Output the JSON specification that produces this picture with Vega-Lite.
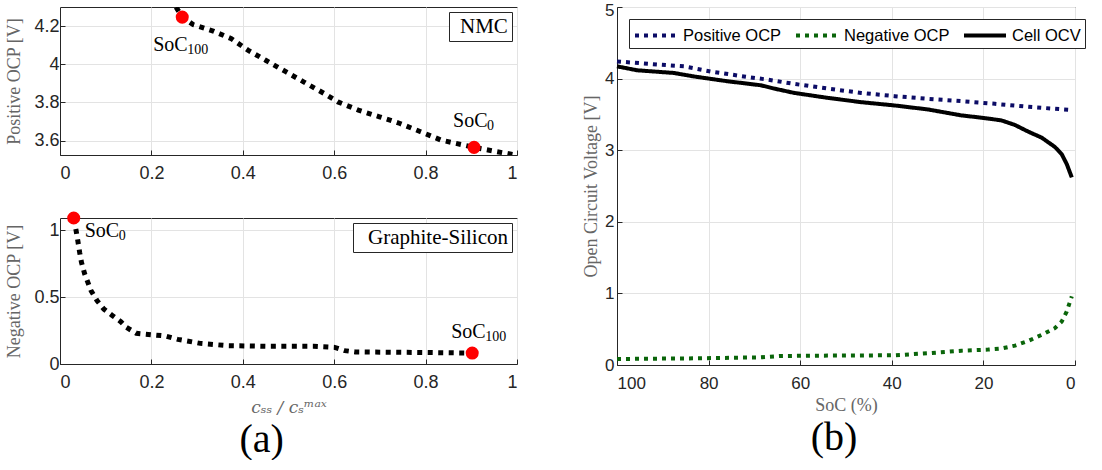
{
  "$schema": "https://vega.github.io/schema/vega-lite/v6.json",
  "background": "white",
  "padding": {"left": 5, "top": 0, "right": 3, "bottom": 0},
  "config": {
    "view": {"stroke": "#262626", "strokeWidth": 1},
    "axis": {
      "labelFont": "Liberation Sans",
      "labelFontSize": 18,
      "labelColor": "#262626",
      "titleFont": "Liberation Serif",
      "titleFontSize": 18,
      "titleFontWeight": "normal",
      "titleColor": "#666666",
      "domainColor": "#262626",
      "tickColor": "#262626",
      "tickSize": -5,
      "labelPadding": 14,
      "gridColor": "#e3e3e3",
      "gridWidth": 1
    },
    "legend": {"labelFont": "Liberation Sans", "labelColor": "#000000"}
  },
  "datasets": {
    "nmc": [
      {"x": 0.254, "v": 4.299}, {"x": 0.2675, "v": 4.247}, {"x": 0.292, "v": 4.207},
      {"x": 0.337, "v": 4.172}, {"x": 0.375, "v": 4.134}, {"x": 0.412, "v": 4.073},
      {"x": 0.45, "v": 4.021}, {"x": 0.495, "v": 3.96}, {"x": 0.533, "v": 3.908},
      {"x": 0.578, "v": 3.847}, {"x": 0.608, "v": 3.803}, {"x": 0.653, "v": 3.76},
      {"x": 0.699, "v": 3.725}, {"x": 0.744, "v": 3.69}, {"x": 0.789, "v": 3.647},
      {"x": 0.834, "v": 3.603}, {"x": 0.906, "v": 3.565}, {"x": 0.955, "v": 3.543},
      {"x": 0.992, "v": 3.527}
    ],
    "graphite": [
      {"x": 0.030, "v": 1.085}, {"x": 0.035, "v": 1.0}, {"x": 0.039, "v": 0.92},
      {"x": 0.043, "v": 0.833}, {"x": 0.047, "v": 0.759}, {"x": 0.054, "v": 0.672},
      {"x": 0.068, "v": 0.547}, {"x": 0.081, "v": 0.473}, {"x": 0.096, "v": 0.41},
      {"x": 0.115, "v": 0.361}, {"x": 0.133, "v": 0.316}, {"x": 0.145, "v": 0.274},
      {"x": 0.167, "v": 0.229}, {"x": 0.209, "v": 0.216}, {"x": 0.231, "v": 0.209},
      {"x": 0.258, "v": 0.184}, {"x": 0.307, "v": 0.154}, {"x": 0.367, "v": 0.137},
      {"x": 0.457, "v": 0.132}, {"x": 0.555, "v": 0.132}, {"x": 0.601, "v": 0.124},
      {"x": 0.623, "v": 0.1}, {"x": 0.646, "v": 0.09}, {"x": 0.759, "v": 0.087},
      {"x": 0.902, "v": 0.082}
    ],
    "markersTop": [
      {"x": 0.2675, "v": 4.247, "label": "SoC", "sub": "100", "end": "full"},
      {"x": 0.906, "v": 3.565, "label": "SoC", "sub": "0", "end": "empty"}
    ],
    "markersBottom": [
      {"x": 0.030, "v": 1.09, "label": "SoC", "sub": "0", "end": "empty"},
      {"x": 0.902, "v": 0.082, "label": "SoC", "sub": "100", "end": "full"}
    ],
    "cell": [
      {"series": "Positive OCP", "soc": 100, "v": 4.24}, {"series": "Positive OCP", "soc": 90.5, "v": 4.194},
      {"series": "Positive OCP", "soc": 85.4, "v": 4.171}, {"series": "Positive OCP", "soc": 79.6, "v": 4.10},
      {"series": "Positive OCP", "soc": 72.3, "v": 4.03}, {"series": "Positive OCP", "soc": 67.2, "v": 3.986},
      {"series": "Positive OCP", "soc": 61.3, "v": 3.926}, {"series": "Positive OCP", "soc": 54.0, "v": 3.861},
      {"series": "Positive OCP", "soc": 46.7, "v": 3.80}, {"series": "Positive OCP", "soc": 39.4, "v": 3.755},
      {"series": "Positive OCP", "soc": 32.1, "v": 3.718}, {"series": "Positive OCP", "soc": 24.8, "v": 3.685},
      {"series": "Positive OCP", "soc": 17.5, "v": 3.648}, {"series": "Positive OCP", "soc": 10.2, "v": 3.606},
      {"series": "Positive OCP", "soc": 1.5, "v": 3.565}, {"series": "Positive OCP", "soc": 0.5, "v": 3.56},
      {"series": "Negative OCP", "soc": 100, "v": 0.084}, {"series": "Negative OCP", "soc": 83.2, "v": 0.093},
      {"series": "Negative OCP", "soc": 68.6, "v": 0.107}, {"series": "Negative OCP", "soc": 64.2, "v": 0.126},
      {"series": "Negative OCP", "soc": 54.0, "v": 0.131}, {"series": "Negative OCP", "soc": 39.4, "v": 0.136},
      {"series": "Negative OCP", "soc": 32.1, "v": 0.164}, {"series": "Negative OCP", "soc": 24.8, "v": 0.2},
      {"series": "Negative OCP", "soc": 19.0, "v": 0.215}, {"series": "Negative OCP", "soc": 16.1, "v": 0.229},
      {"series": "Negative OCP", "soc": 13.1, "v": 0.271}, {"series": "Negative OCP", "soc": 10.2, "v": 0.336},
      {"series": "Negative OCP", "soc": 7.3, "v": 0.42}, {"series": "Negative OCP", "soc": 4.4, "v": 0.514},
      {"series": "Negative OCP", "soc": 2.9, "v": 0.607}, {"series": "Negative OCP", "soc": 1.8, "v": 0.748},
      {"series": "Negative OCP", "soc": 0.7, "v": 0.958},
      {"series": "Cell OCV", "soc": 100, "v": 4.171}, {"series": "Cell OCV", "soc": 95.6, "v": 4.116},
      {"series": "Cell OCV", "soc": 87.6, "v": 4.079}, {"series": "Cell OCV", "soc": 83.2, "v": 4.03},
      {"series": "Cell OCV", "soc": 75.9, "v": 3.963}, {"series": "Cell OCV", "soc": 68.6, "v": 3.907},
      {"series": "Cell OCV", "soc": 65.7, "v": 3.861}, {"series": "Cell OCV", "soc": 61.3, "v": 3.80},
      {"series": "Cell OCV", "soc": 54.0, "v": 3.731}, {"series": "Cell OCV", "soc": 46.7, "v": 3.671},
      {"series": "Cell OCV", "soc": 39.4, "v": 3.625}, {"series": "Cell OCV", "soc": 32.1, "v": 3.569},
      {"series": "Cell OCV", "soc": 24.8, "v": 3.486}, {"series": "Cell OCV", "soc": 20.4, "v": 3.454},
      {"series": "Cell OCV", "soc": 16.1, "v": 3.417}, {"series": "Cell OCV", "soc": 13.1, "v": 3.352},
      {"series": "Cell OCV", "soc": 10.2, "v": 3.259}, {"series": "Cell OCV", "soc": 7.3, "v": 3.176},
      {"series": "Cell OCV", "soc": 4.4, "v": 3.046}, {"series": "Cell OCV", "soc": 2.9, "v": 2.944},
      {"series": "Cell OCV", "soc": 1.8, "v": 2.806}, {"series": "Cell OCV", "soc": 0.7, "v": 2.62}
    ]
  },
  "resolve": {
    "scale": {"color": "independent", "strokeDash": "independent", "strokeWidth": "independent"},
    "legend": {"color": "independent", "strokeDash": "independent", "strokeWidth": "independent"}
  },
  "hconcat": [
    {
      "title": {"text": "(a)", "orient": "bottom", "anchor": "middle", "frame": "bounds", "font": "Liberation Serif", "fontSize": 40, "fontWeight": "normal", "color": "#000000", "offset": 4},
      "spacing": 25,
      "resolve": {"scale": {"color": "independent"}, "legend": {"color": "independent"}},
      "vconcat": [
        {
          "width": 457,
          "height": 148,
          "layer": [
            {
              "data": {"name": "nmc"},
              "mark": {"type": "line", "strokeWidth": 5, "strokeDash": [5, 5.5], "strokeCap": "butt", "clip": true},
              "encoding": {
                "x": {"field": "x", "type": "quantitative", "scale": {"domain": [0, 1], "nice": false},
                      "axis": {"values": [0, 0.2, 0.4, 0.6, 0.8, 1], "format": "~g", "title": null}},
                "y": {"field": "v", "type": "quantitative", "scale": {"domain": [3.525, 4.3], "nice": false, "zero": false},
                      "axis": {"values": [3.6, 3.8, 4, 4.2], "format": "~g", "title": "Positive OCP [V]", "labelPadding": 6, "titlePadding": 10}},
                "color": {"datum": "NMC", "type": "nominal", "scale": {"range": ["#000000"]},
                          "legend": {"title": null, "orient": "top-right", "offset": 5, "labelFont": "Liberation Serif", "labelFontSize": 21,
                                     "symbolSize": 0, "symbolStrokeWidth": 0, "symbolOpacity": 0, "labelOffset": -14,
                                     "strokeColor": "#262626", "fillColor": "#ffffff", "padding": 4}}
              }
            },
            {
              "data": {"name": "markersTop"},
              "mark": {"type": "point", "filled": true, "color": "#ff0000", "size": 170, "opacity": 1},
              "encoding": {"x": {"field": "x", "type": "quantitative"}, "y": {"field": "v", "type": "quantitative"}}
            },
            {
              "data": {"name": "markersTop"},
              "transform": [{"filter": "datum.end === 'full'"}],
              "layer": [
                {"mark": {"type": "text", "align": "left", "baseline": "alphabetic", "font": "Liberation Serif", "fontSize": 20, "dx": -29, "dy": 34},
                 "encoding": {"x": {"field": "x", "type": "quantitative"}, "y": {"field": "v", "type": "quantitative"}, "text": {"field": "label"}}},
                {"mark": {"type": "text", "align": "left", "baseline": "alphabetic", "font": "Liberation Serif", "fontSize": 14, "dx": 5, "dy": 37},
                 "encoding": {"x": {"field": "x", "type": "quantitative"}, "y": {"field": "v", "type": "quantitative"}, "text": {"field": "sub"}}}
              ]
            },
            {
              "data": {"name": "markersTop"},
              "transform": [{"filter": "datum.end === 'empty'"}],
              "layer": [
                {"mark": {"type": "text", "align": "left", "baseline": "alphabetic", "font": "Liberation Serif", "fontSize": 20, "dx": -21, "dy": -20},
                 "encoding": {"x": {"field": "x", "type": "quantitative"}, "y": {"field": "v", "type": "quantitative"}, "text": {"field": "label"}}},
                {"mark": {"type": "text", "align": "left", "baseline": "alphabetic", "font": "Liberation Serif", "fontSize": 14, "dx": 13, "dy": -17},
                 "encoding": {"x": {"field": "x", "type": "quantitative"}, "y": {"field": "v", "type": "quantitative"}, "text": {"field": "sub"}}}
              ]
            }
          ]
        },
        {
          "width": 457,
          "height": 146,
          "layer": [
            {
              "data": {"name": "graphite"},
              "mark": {"type": "line", "strokeWidth": 5, "strokeDash": [5, 5.5], "strokeCap": "butt"},
              "encoding": {
                "x": {"field": "x", "type": "quantitative", "scale": {"domain": [0, 1], "nice": false},
                      "axis": {"values": [0, 0.2, 0.4, 0.6, 0.8, 1], "format": "~g", "title": "cₛₛ / cₛᵐᵃˣ", "titleFont": "DejaVu Serif", "titleFontStyle": "italic", "titleFontSize": 17, "titlePadding": 8}},
                "y": {"field": "v", "type": "quantitative", "scale": {"domain": [0, 1.09], "nice": false},
                      "axis": {"values": [0, 0.5, 1], "format": "~g", "title": "Negative OCP [V]", "labelPadding": 6, "titlePadding": 10}},
                "color": {"datum": "Graphite-Silicon", "type": "nominal", "scale": {"range": ["#000000"]},
                          "legend": {"title": null, "orient": "top-right", "offset": 5, "labelFont": "Liberation Serif", "labelFontSize": 21,
                                     "symbolSize": 0, "symbolStrokeWidth": 0, "symbolOpacity": 0, "labelOffset": -10,
                                     "strokeColor": "#262626", "fillColor": "#ffffff", "padding": 4}}
              }
            },
            {
              "data": {"name": "markersBottom"},
              "mark": {"type": "point", "filled": true, "color": "#ff0000", "size": 170, "opacity": 1},
              "encoding": {"x": {"field": "x", "type": "quantitative"}, "y": {"field": "v", "type": "quantitative"}}
            },
            {
              "data": {"name": "markersBottom"},
              "transform": [{"filter": "datum.end === 'empty'"}],
              "layer": [
                {"mark": {"type": "text", "align": "left", "baseline": "alphabetic", "font": "Liberation Serif", "fontSize": 20, "dx": 11, "dy": 19},
                 "encoding": {"x": {"field": "x", "type": "quantitative"}, "y": {"field": "v", "type": "quantitative"}, "text": {"field": "label"}}},
                {"mark": {"type": "text", "align": "left", "baseline": "alphabetic", "font": "Liberation Serif", "fontSize": 14, "dx": 45, "dy": 22},
                 "encoding": {"x": {"field": "x", "type": "quantitative"}, "y": {"field": "v", "type": "quantitative"}, "text": {"field": "sub"}}}
              ]
            },
            {
              "data": {"name": "markersBottom"},
              "transform": [{"filter": "datum.end === 'full'"}],
              "layer": [
                {"mark": {"type": "text", "align": "left", "baseline": "alphabetic", "font": "Liberation Serif", "fontSize": 20, "dx": -21, "dy": -15},
                 "encoding": {"x": {"field": "x", "type": "quantitative"}, "y": {"field": "v", "type": "quantitative"}, "text": {"field": "label"}}},
                {"mark": {"type": "text", "align": "left", "baseline": "alphabetic", "font": "Liberation Serif", "fontSize": 14, "dx": 13, "dy": -12},
                 "encoding": {"x": {"field": "x", "type": "quantitative"}, "y": {"field": "v", "type": "quantitative"}, "text": {"field": "sub"}}}
              ]
            }
          ]
        }
      ]
    },
    {
      "title": {"text": "(b)", "orient": "bottom", "anchor": "middle", "frame": "bounds", "font": "Liberation Serif", "fontSize": 40, "fontWeight": "normal", "color": "#000000", "offset": 4},
      "width": 458,
      "height": 358,
      "data": {"name": "cell"},
      "mark": {"type": "line", "strokeCap": "butt"},
      "encoding": {
        "x": {"field": "soc", "type": "quantitative", "scale": {"domain": [0, 100], "reverse": true, "nice": false},
              "axis": {"values": [0, 20, 40, 60, 80, 100], "title": "SoC (%)", "labelFontSize": 17, "labelPadding": 15, "titlePadding": 5}},
        "y": {"field": "v", "type": "quantitative", "scale": {"domain": [0, 5], "nice": false},
              "axis": {"values": [0, 1, 2, 3, 4, 5], "title": "Open Circuit Voltage [V]", "labelFontSize": 17, "labelPadding": 8, "titlePadding": 4,
                       "labelOffset": {"condition": {"test": "datum.value === 5", "value": 3}, "value": 0}}},
        "color": {"field": "series", "type": "nominal",
                  "scale": {"domain": ["Positive OCP", "Negative OCP", "Cell OCV"], "range": ["#0c0c66", "#0a650a", "#000000"]},
                  "legend": {"title": null, "orient": "top-left", "offset": 12, "direction": "horizontal", "gridAlign": "none",
                             "symbolType": "M-2,0H2", "symbolSize": 441, "symbolOffset": 10.5, "labelFontSize": 16.5, "labelOffset": 14.5, "columnPadding": 6,
                             "strokeColor": "#262626", "fillColor": "#ffffff", "padding": 4}},
        "strokeDash": {"field": "series", "type": "nominal",
                       "scale": {"domain": ["Positive OCP", "Negative OCP", "Cell OCV"], "range": [[4, 5], [4, 5], [1, 0]]},
                       "legend": {"title": null, "orient": "top-left", "offset": 12, "direction": "horizontal", "gridAlign": "none",
                             "symbolType": "M-2,0H2", "symbolSize": 441, "symbolOffset": 10.5, "labelFontSize": 16.5, "labelOffset": 14.5, "columnPadding": 6,
                             "strokeColor": "#262626", "fillColor": "#ffffff", "padding": 4}},
        "strokeWidth": {"field": "series", "type": "nominal",
                        "scale": {"domain": ["Positive OCP", "Negative OCP", "Cell OCV"], "range": [4, 4, 5.5]},
                        "legend": {"title": null, "orient": "top-left", "offset": 12, "direction": "horizontal", "gridAlign": "none",
                             "symbolType": "M-2,0H2", "symbolSize": 441, "symbolOffset": 10.5, "labelFontSize": 16.5, "labelOffset": 14.5, "columnPadding": 6,
                             "strokeColor": "#262626", "fillColor": "#ffffff", "padding": 4}}
      }
    }
  ],
  "spacing": 64
}
